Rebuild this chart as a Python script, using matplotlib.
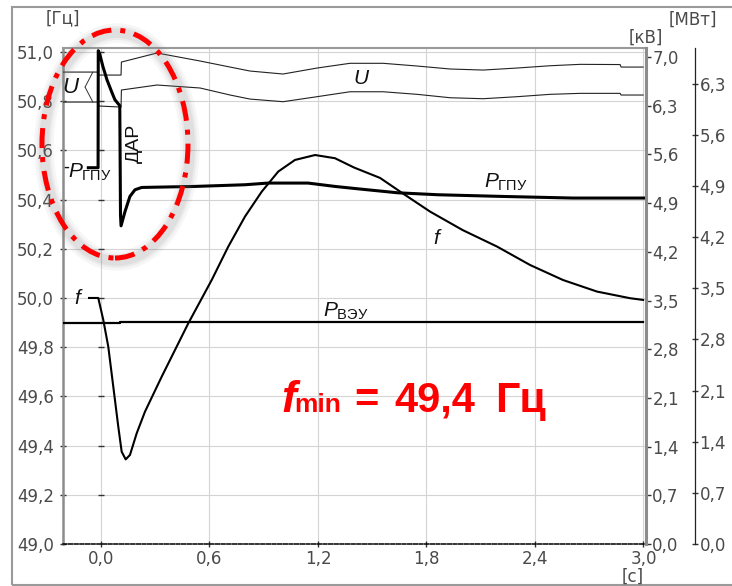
import matplotlib
matplotlib.use("Agg")
import matplotlib.pyplot as plt
from matplotlib.patches import Ellipse, Rectangle

plt.rcParams['font.family'] = ['DejaVu Sans']
plt.rcParams['mathtext.fontset'] = 'custom'
plt.rcParams['mathtext.rm'] = 'Liberation Sans'
plt.rcParams['mathtext.it'] = 'Liberation Sans:italic'
plt.rcParams['mathtext.bf'] = 'Liberation Sans:bold'

# ---------------- data ----------------
# frequency f, Hz
t_f = [-0.066, -0.015, 0.0127, 0.0404, 0.068, 0.0957, 0.1145, 0.1366, 0.1604, 0.1975,
       0.2434, 0.3357, 0.4829, 0.6123, 0.7041, 0.7965, 0.8888, 0.9806, 1.073, 1.184,
       1.294, 1.4, 1.543, 1.665, 1.82, 2.0, 2.19, 2.373, 2.555, 2.743, 2.926, 2.998]
f_hz = [50.0, 50.0, 49.911, 49.802, 49.64, 49.477, 49.375, 49.344, 49.362, 49.45,
        49.538, 49.68, 49.897, 50.073, 50.209, 50.331, 50.432, 50.514, 50.561, 50.581,
        50.568, 50.53, 50.488, 50.427, 50.351, 50.276, 50.209, 50.134, 50.073, 50.026,
        49.999, 49.992]

# gas-piston unit power, MW
t_pgpu = [-0.07, -0.016, -0.015, -0.006, 0.011, 0.033, 0.061, 0.077, 0.104, 0.108, 0.111,
          0.133, 0.16, 0.188, 0.225, 0.52, 0.796, 0.924, 1.145, 1.294, 1.43, 1.64, 1.864,
          2.22, 2.61, 3.0]
p_gpu = [5.151, 5.151, 6.753, 6.699, 6.534, 6.356, 6.178, 6.082, 6.0, 4.5, 4.356,
         4.552, 4.758, 4.849, 4.881, 4.895, 4.918, 4.941, 4.941, 4.895, 4.860, 4.808, 4.781,
         4.758, 4.736, 4.736]

# wind unit power, MW
t_pveu = [-0.25, 0.107, 0.107, 3.0]
p_veu = [3.023, 3.023, 3.037, 3.037]

# voltages, kV
t_u = [-0.25, -0.017, -0.011, 0.111, 0.113, 0.31, 0.548, 0.714, 0.824, 1.007, 1.195, 1.377,
       1.56, 1.748, 1.931, 2.113, 2.301, 2.484, 2.65, 2.871, 2.876, 2.998]
u_upper = [6.784, 6.784, 6.741, 6.741, 6.928, 7.058, 6.943, 6.856, 6.799, 6.756, 6.842, 6.910,
           6.910, 6.871, 6.828, 6.813, 6.842, 6.875, 6.895, 6.892, 6.856, 6.856]
u_lower = [6.353, 6.353, 6.296, 6.281, 6.526, 6.598, 6.555, 6.454, 6.396, 6.358, 6.430, 6.501,
           6.501, 6.464, 6.415, 6.401, 6.430, 6.464, 6.478, 6.478, 6.454, 6.454]

# axes ticks
x_ticks = [0.0, 0.6, 1.2, 1.8, 2.4, 3.0]
x_labels = ['0,0', '0,6', '1,2', '1,8', '2,4', '3,0']
hz_ticks = [49.0, 49.2, 49.4, 49.6, 49.8, 50.0, 50.2, 50.4, 50.6, 50.8, 51.0]
hz_labels = ['49,0', '49,2', '49,4', '49,6', '49,8', '50,0', '50,2', '50,4', '50,6', '50,8', '51,0']
kv_ticks = [0.0, 0.7, 1.4, 2.1, 2.8, 3.5, 4.2, 4.9, 5.6, 6.3, 7.0]
kv_labels = ['0,0', '0,7', '1,4', '2,1', '2,8', '3,5', '4,2', '4,9', '5,6', '6,3', '7,0']
mw_ticks = [0.0, 0.7, 1.4, 2.1, 2.8, 3.5, 4.2, 4.9, 5.6, 6.3]
mw_labels = ['0,0', '0,7', '1,4', '2,1', '2,8', '3,5', '4,2', '4,9', '5,6', '6,3']

# ---------------- figure ----------------
W, H = 732, 586
fig = plt.figure(figsize=(W / 100, H / 100), dpi=100)

def fx(px):
    return px / W

def fy(py):
    return 1 - py / H

ax = fig.add_axes([fx(63), fy(544), fx(646) - fx(63), fy(48) - fy(544)])
axkv = ax.twinx()
axmw = ax.twinx()
axmw.spines['right'].set_position(('outward', 35))

tick_col = '#4a4a4a'
ax.set_xlim(-0.21, 3.014)
ax.set_ylim(49.0, 51.016)
axkv.set_ylim(0.0, 7.13)
axmw.set_ylim(0.0, 6.79)

ax.set_xticks(x_ticks)
ax.set_xticklabels(x_labels)
ax.set_yticks(hz_ticks)
ax.set_yticklabels(hz_labels)
axkv.set_yticks(kv_ticks)
axkv.set_yticklabels(kv_labels)
axmw.set_yticks(mw_ticks)
axmw.set_yticklabels(mw_labels)

ax.grid(True, color='#d4d4d4', lw=0.8)
ax.set_axisbelow(True)

ax.tick_params(axis='y', direction='inout', length=5, width=1, color='#333333',
               labelsize=12, labelcolor=tick_col, pad=4)
ax.tick_params(axis='x', direction='inout', length=4, width=1, color='#333333',
               labelsize=12, labelcolor=tick_col, pad=2)
axkv.tick_params(axis='y', direction='out', length=3.5, width=1, color='#333333',
                 labelsize=12, labelcolor=tick_col, pad=1)
axmw.tick_params(axis='y', direction='inout', length=5, width=1, color='#333333',
                 labelsize=12, labelcolor=tick_col, pad=1)

for a in (ax, axkv, axmw):
    for s in a.spines.values():
        s.set_visible(False)
ax.spines['left'].set_visible(True)
ax.spines['left'].set_color('#8c8c8c')
ax.spines['left'].set_linewidth(1.8)
ax.spines['top'].set_visible(True)
ax.spines['top'].set_color('#9a9a9a')
ax.spines['top'].set_linewidth(1.5)
ax.spines['bottom'].set_visible(True)
ax.spines['bottom'].set_color('black')
ax.spines['bottom'].set_linewidth(1.1)
ax.spines['bottom'].set_linestyle((0, (2.5, 1.2)))
axkv.spines['right'].set_visible(True)
axkv.spines['right'].set_color('#8c8c8c')
axkv.spines['right'].set_linewidth(2.2)
axmw.spines['right'].set_visible(True)
axmw.spines['right'].set_color('#222222')
axmw.spines['right'].set_linewidth(0.9)

# small dark ticks on the t = 0 line
ax.plot([0.0] * len(hz_ticks[1:]), hz_ticks[1:], ls='none', marker='_', ms=4, mew=1,
        color='#333333', zorder=2)

# ---------------- curves ----------------
axkv.plot(t_u, u_upper, color='#222222', lw=0.8, zorder=3)
axkv.plot(t_u, u_lower, color='#222222', lw=0.8, zorder=3)
axmw.plot(t_pveu, p_veu, color='black', lw=1.6, zorder=3)
axmw.plot(t_pgpu, p_gpu, color='black', lw=2.2, zorder=4, solid_joinstyle='round')
ax.plot(t_f, f_hz, color='black', lw=1.5, zorder=5, solid_joinstyle='round')
for a in (axkv, axmw):
    a.patch.set_visible(False)

# leader bracket for left U label
axkv.annotate('', xy=(-0.045, u_upper[0]), xytext=(-0.088, (u_upper[0] + u_lower[0]) / 2),
              arrowprops=dict(arrowstyle='-', color='#333333', lw=0.7, shrinkA=0, shrinkB=0))
axkv.annotate('', xy=(-0.045, u_lower[0]), xytext=(-0.088, (u_upper[0] + u_lower[0]) / 2),
              arrowprops=dict(arrowstyle='-', color='#333333', lw=0.7, shrinkA=0, shrinkB=0))

# ---------------- labels ----------------
lab = dict(color='#111111', ha='center', va='center')
fig.text(fx(71), fy(87), '$U$', fontsize=16, **lab)
fig.text(fx(362), fy(78), '$U$', fontsize=15, **lab)
fig.text(fx(79), fy(298), '$f$', fontsize=15, **lab)
fig.text(fx(438), fy(238), '$f$', fontsize=15, **lab)
fig.text(fx(90), fy(172), r'$P_{\mathrm{ГПУ}}$', fontsize=15, **lab)
fig.text(fx(66), fy(167), '-', fontsize=12, **lab)
fig.text(fx(506), fy(182), r'$P_{\mathrm{ГПУ}}$', fontsize=15, **lab)
fig.text(fx(346), fy(311), r'$P_{\mathrm{ВЭУ}}$', fontsize=15, **lab)
fig.text(fx(134.5), fy(143), 'ДАР', fontsize=14, rotation=90, family='Liberation Sans', **lab)

unit = dict(color=tick_col, ha='center', va='center', fontsize=12)
fig.text(fx(63), fy(18), '[Гц]', **unit)
fig.text(fx(646), fy(38), '[кВ]', **unit)
fig.text(fx(693), fy(20), '[МВт]', **unit)
fig.text(fx(633), fy(577), '[с]', **unit)

# red annotation
red = '#ff0000'
fig.text(fx(281), fy(412), 'f', fontsize=32, color=red, fontweight='bold', fontstyle='italic',
         family='Liberation Sans', ha='left', va='baseline')
fig.text(fx(294), fy(412), 'min', fontsize=19, color=red, fontweight='bold',
         family='Liberation Sans', ha='left', va='baseline')
fig.text(fx(354), fy(412), '=', fontsize=30, color=red, fontweight='bold',
         family='Liberation Sans', ha='left', va='baseline')
fig.text(fx(394), fy(412), '49,4', fontsize=30, color=red, fontweight='bold',
         family='Liberation Sans', ha='left', va='baseline')
fig.text(fx(495), fy(412), 'Гц', fontsize=31, color=red, fontweight='bold',
         family='Liberation Sans', ha='left', va='baseline')

# red dashed ellipse with soft shadow
for lw_s, al in ((14, 0.07), (10, 0.09), (7, 0.11)):
    fig.patches.append(Ellipse((fx(117), fy(147)), fx(146), 228 / H, fill=False,
                               edgecolor='#808080', lw=lw_s, alpha=al,
                               transform=fig.transFigure, zorder=20))
fig.patches.append(Ellipse((fx(115), fy(144)), fx(146), 228 / H, fill=False,
                           edgecolor=red, lw=3.6, linestyle=(0, (4, 1.8, 1, 1.8)),
                           transform=fig.transFigure, zorder=21))

# outer frame
fig.patches.append(Rectangle((fx(12), fy(585)), fx(740) - fx(12), fy(7) - fy(585), fill=False,
                             edgecolor='#9a9a9a', lw=1.5, transform=fig.transFigure, zorder=0))

fig.savefig('out.png', dpi=100)
